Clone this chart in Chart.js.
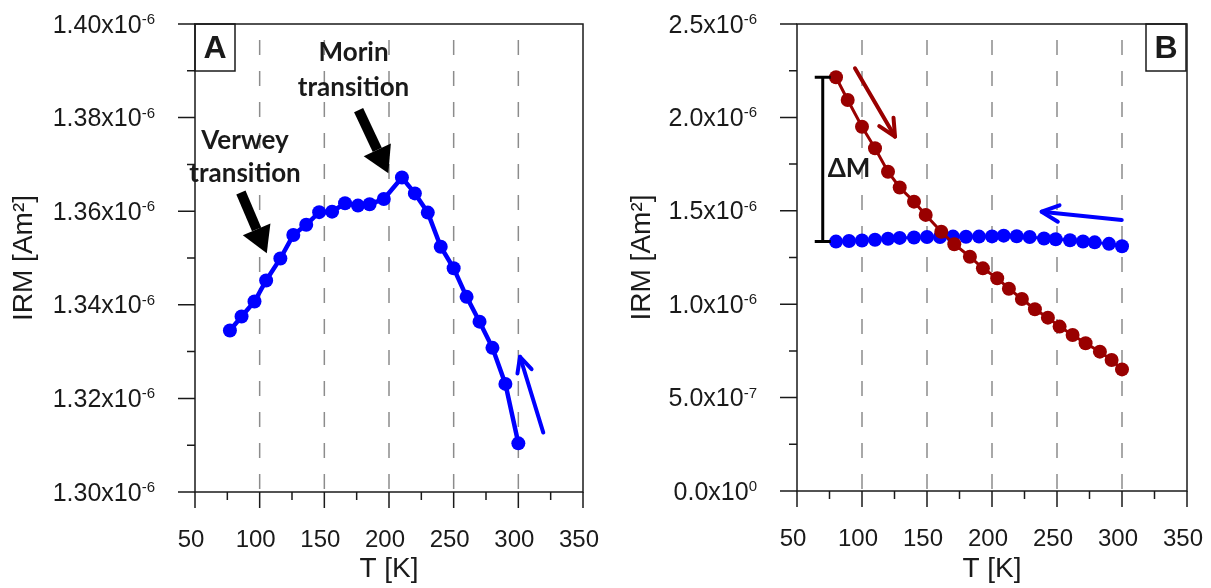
<!DOCTYPE html>
<html>
<head>
<meta charset="utf-8">
<script src="https://cdn.jsdelivr.net/npm/chart.js@4.4.0/dist/chart.umd.min.js"></script>
<style>
body { margin: 0; background: #fff; }
#wrapA { position: absolute; left: 0; top: 0; width: 620px; height: 588px; }
#wrapB { position: absolute; left: 600px; top: 0; width: 611px; height: 588px; }
</style>
</head>
<body>
<div id="wrapA"><canvas id="chartA" width="620" height="588"></canvas></div>
<div id="wrapB"><canvas id="chartB" width="611" height="588"></canvas></div>
<script>
// Panel A - IRM saat pemanasan
const tempA = [77, 86, 96, 105, 116, 126, 136, 146, 156, 166, 176, 185, 196, 210, 220, 230, 240, 250, 260, 270, 280, 290, 300];
const irmA = [1.3345e-6, 1.3375e-6, 1.3407e-6, 1.3452e-6, 1.3499e-6, 1.3549e-6, 1.3571e-6, 1.3598e-6, 1.3599e-6, 1.3617e-6, 1.3612e-6, 1.3615e-6,
              1.3626e-6, 1.3672e-6, 1.3638e-6, 1.3597e-6, 1.3524e-6, 1.3478e-6, 1.3417e-6, 1.3364e-6, 1.3308e-6, 1.3231e-6, 1.3104e-6];

// Panel B - dua kurva
const tempRed = [80, 89, 100, 110, 120, 129, 140, 149, 161, 171, 183, 193, 204, 213, 223, 233, 243, 252, 262, 272, 283, 292, 300];
const irmRed = [2.215e-6, 2.093e-6, 1.950e-6, 1.835e-6, 1.709e-6, 1.625e-6, 1.549e-6, 1.478e-6, 1.388e-6, 1.321e-6, 1.254e-6, 1.192e-6,
                1.139e-6, 1.083e-6, 1.028e-6, 0.973e-6, 0.928e-6, 0.880e-6, 0.835e-6, 0.791e-6, 0.746e-6, 0.701e-6, 0.651e-6];
const tempBlue = [80, 90, 100, 110, 120, 129, 140, 150, 160, 170, 180, 190, 200, 209, 219, 229, 240, 249, 260, 270, 279, 290, 300];
const irmBlue = [1.335e-6, 1.338e-6, 1.341e-6, 1.345e-6, 1.350e-6, 1.355e-6, 1.357e-6, 1.360e-6, 1.360e-6, 1.362e-6, 1.361e-6, 1.362e-6,
                 1.363e-6, 1.367e-6, 1.364e-6, 1.360e-6, 1.352e-6, 1.348e-6, 1.342e-6, 1.336e-6, 1.331e-6, 1.323e-6, 1.310e-6];

// Tick
const xTicks = [50, 100, 150, 200, 250, 300, 350];
const dashX = [100, 150, 200, 250, 300];
const yTicksA = [1.30e-6, 1.32e-6, 1.34e-6, 1.36e-6, 1.38e-6, 1.40e-6];
const yLabelsA = [['1.30x10', '-6'], ['1.32x10', '-6'], ['1.34x10', '-6'], ['1.36x10', '-6'], ['1.38x10', '-6'], ['1.40x10', '-6']];
const yTicksB = [0, 0.5e-6, 1.0e-6, 1.5e-6, 2.0e-6, 2.5e-6];
const yLabelsB = [['0.0x10', '0'], ['5.0x10', '-7'], ['1.0x10', '-6'], ['1.5x10', '-6'], ['2.0x10', '-6'], ['2.5x10', '-6']];

const AXIS_FONT = "'Liberation Sans', Arial, sans-serif";
const NOTE_FONT = "Lato, 'Open Sans', sans-serif";
const INK = '#1a1a1a';

function arrow(ctx, x1, y1, x2, y2, a) {
    const ang = Math.atan2(y2 - y1, x2 - x1);
    ctx.strokeStyle = a.color;
    ctx.fillStyle = a.color;
    ctx.lineWidth = a.width;
    ctx.lineCap = 'butt';
    if (a.filled) {
        // panah hitam tebal dengan kepala segitiga
        const bx = x2 - Math.cos(ang) * a.head, by = y2 - Math.sin(ang) * a.head;
        ctx.beginPath(); ctx.moveTo(x1, y1); ctx.lineTo(bx, by); ctx.stroke();
        const nx = -Math.sin(ang) * a.headW / 2, ny = Math.cos(ang) * a.headW / 2;
        ctx.beginPath();
        ctx.moveTo(x2, y2); ctx.lineTo(bx + nx, by + ny); ctx.lineTo(bx - nx, by - ny);
        ctx.closePath(); ctx.fill();
    } else {
        // panah garis tipis dengan kepala terbuka
        ctx.lineCap = 'round';
        ctx.lineJoin = 'round';
        ctx.beginPath(); ctx.moveTo(x1, y1); ctx.lineTo(x2, y2); ctx.stroke();
        ctx.beginPath();
        ctx.moveTo(x2 - Math.cos(ang - 0.45) * a.head, y2 - Math.sin(ang - 0.45) * a.head);
        ctx.lineTo(x2, y2);
        ctx.lineTo(x2 - Math.cos(ang + 0.45) * a.head, y2 - Math.sin(ang + 0.45) * a.head);
        ctx.stroke();
    }
}

const decoPlugin = {
    id: 'deco',
    beforeDatasetsDraw(chart, args, o) {
        const {ctx, chartArea: a, scales: {x}} = chart;
        ctx.save();
        ctx.strokeStyle = '#8c8c8c';
        ctx.lineWidth = 1.5;
        ctx.setLineDash([15, 16]);
        ctx.lineDashOffset = 15;
        dashX.forEach(v => {
            const px = x.getPixelForValue(v);
            ctx.beginPath(); ctx.moveTo(px, a.top); ctx.lineTo(px, a.bottom); ctx.stroke();
        });
        ctx.restore();
    },
    afterDraw(chart, args, o) {
        const {ctx, chartArea: a, scales: {x, y}} = chart;
        ctx.save();
        ctx.strokeStyle = INK;
        ctx.lineWidth = 1.5;
        ctx.strokeRect(a.left, a.top, a.right - a.left, a.bottom - a.top);

        // tick mayor + minor sumbu x
        ctx.beginPath();
        x.ticks.forEach((t, i) => {
            const px = x.getPixelForValue(t.value);
            ctx.moveTo(px, a.bottom); ctx.lineTo(px, a.bottom + 16);
            if (i < x.ticks.length - 1) {
                const mx = x.getPixelForValue((t.value + x.ticks[i + 1].value) / 2);
                ctx.moveTo(mx, a.bottom); ctx.lineTo(mx, a.bottom + 8);
            }
        });
        // tick sumbu y
        y.ticks.forEach((t, i) => {
            const py = y.getPixelForValue(t.value);
            ctx.moveTo(a.left - 17, py); ctx.lineTo(a.left, py);
            if (i < y.ticks.length - 1) {
                const my = y.getPixelForValue((t.value + y.ticks[i + 1].value) / 2);
                ctx.moveTo(a.left - 8, my); ctx.lineTo(a.left, my);
            }
        });
        ctx.stroke();

        // label sumbu y dengan pangkat
        ctx.fillStyle = INK;
        ctx.textBaseline = 'alphabetic';
        ctx.textAlign = 'left';
        const right = a.left - 40;
        y.ticks.forEach((t, i) => {
            const py = y.getPixelForValue(t.value);
            const [main, exp] = o.yLabels[i];
            ctx.font = '15px ' + AXIS_FONT;
            const ew = ctx.measureText(exp).width;
            ctx.font = '25px ' + AXIS_FONT;
            const mw = ctx.measureText(main).width;
            ctx.fillText(main, right - ew - mw, py + 8.5);
            ctx.font = '15px ' + AXIS_FONT;
            ctx.fillText(exp, right - ew, py);
        });

        // kotak huruf panel
        const bw = 40, bh = 47;
        const bx = o.corner.side === 'left' ? a.left : a.right - bw - 1;
        ctx.lineWidth = 1.5;
        ctx.strokeRect(bx, a.top, bw, bh);
        ctx.font = 'bold 32px ' + AXIS_FONT;
        ctx.textAlign = 'center';
        ctx.textBaseline = 'middle';
        ctx.fillText(o.corner.text, bx + bw / 2, a.top + bh / 2 + 2);

        // teks anotasi
        o.texts.forEach(t => {
            ctx.font = t.font;
            ctx.fillStyle = t.color || INK;
            const px = x.getPixelForValue(t.at[0]), py = y.getPixelForValue(t.at[1]);
            t.lines.forEach((s, k) => ctx.fillText(s, px, py + k * t.lh));
        });

        // panah
        o.arrows.forEach(ar => {
            arrow(ctx, x.getPixelForValue(ar.from[0]), y.getPixelForValue(ar.from[1]),
                  x.getPixelForValue(ar.to[0]), y.getPixelForValue(ar.to[1]), ar);
        });

        // garis Delta M
        if (o.bracket) {
            const px = x.getPixelForValue(o.bracket.x);
            const y1 = y.getPixelForValue(o.bracket.from), y2 = y.getPixelForValue(o.bracket.to);
            ctx.strokeStyle = '#000';
            ctx.lineWidth = 3;
            ctx.lineCap = 'butt';
            ctx.beginPath();
            ctx.moveTo(px, y1); ctx.lineTo(px, y2);
            ctx.moveTo(px - 8, y1); ctx.lineTo(px + 8, y1);
            ctx.moveTo(px - 8, y2); ctx.lineTo(px + 8, y2);
            ctx.stroke();
        }
        ctx.restore();
    }
};

function makeScales(yMin, yMax, yTicks, yWidth, xHeight, titlePad) {
    return {
        x: {
            type: 'linear', min: 50, max: 350,
            afterBuildTicks: s => { s.ticks = xTicks.map(v => ({value: v})); },
            afterFit: s => { s.height = xHeight; s.paddingLeft = 0; s.paddingRight = 0; },
            grid: {display: false, drawTicks: false},
            border: {display: false},
            ticks: {font: {family: AXIS_FONT, size: 24}, color: INK, padding: 34, maxRotation: 0, labelOffset: -4},
            title: {display: true, text: 'T [K]', color: INK, font: {family: AXIS_FONT, size: 28}, padding: {top: 0, bottom: 2}}
        },
        y: {
            type: 'linear', min: yMin, max: yMax,
            afterBuildTicks: s => { s.ticks = yTicks.map(v => ({value: v})); },
            afterFit: s => { s.width = yWidth; s.paddingTop = 0; s.paddingBottom = 0; },
            grid: {display: false, drawTicks: false},
            border: {display: false},
            ticks: {display: false},
            title: {display: true, text: 'IRM [Am²]', color: INK, font: {family: AXIS_FONT, size: 28}, padding: {top: titlePad, bottom: 0}}
        }
    };
}

const noteFont = 'bold 26px ' + NOTE_FONT;

new Chart(document.getElementById('chartA'), {
    type: 'line',
    data: {
        datasets: [{
            data: tempA.map((t, i) => ({x: t, y: irmA[i]})),
            borderColor: '#0000ff',
            backgroundColor: '#0000ff',
            borderWidth: 4.5,
            pointRadius: 7,
            pointBorderWidth: 0,
            tension: 0
        }]
    },
    options: {
        responsive: false,
        animation: false,
        layout: {padding: {top: 24, right: 37, left: 0, bottom: 0}},
        scales: makeScales(1.30e-6, 1.40e-6, yTicksA, 195, 96, 7),
        plugins: {
            legend: {display: false},
            tooltip: {enabled: false},
            deco: {
                yLabels: yLabelsA,
                corner: {text: 'A', side: 'left'},
                texts: [
                    {at: [88.7, 1.3750e-6], lines: ['Verwey', 'transition'], lh: 33, font: noteFont},
                    {at: [172.6, 1.3938e-6], lines: ['Morin', 'transition'], lh: 35, font: noteFont}
                ],
                arrows: [
                    {from: [85.5, 1.3640e-6], to: [105.5, 1.3510e-6], color: '#000', width: 10, head: 26, headW: 30, filled: true},
                    {from: [176.5, 1.3816e-6], to: [199.5, 1.3681e-6], color: '#000', width: 10, head: 26, headW: 30, filled: true},
                    {from: [319.3, 1.3127e-6], to: [301.3, 1.3289e-6], color: '#0000ff', width: 4, head: 17}
                ]
            }
        }
    },
    plugins: [decoPlugin]
});

new Chart(document.getElementById('chartB'), {
    type: 'line',
    data: {
        datasets: [{
            data: tempRed.map((t, i) => ({x: t, y: irmRed[i]})),
            borderColor: '#990000',
            backgroundColor: '#990000',
            borderWidth: 3,
            pointRadius: 7,
            pointBorderWidth: 0,
            tension: 0
        }, {
            data: tempBlue.map((t, i) => ({x: t, y: irmBlue[i]})),
            borderColor: '#0000ff',
            backgroundColor: '#0000ff',
            borderWidth: 3,
            pointRadius: 7,
            pointBorderWidth: 0,
            tension: 0
        }]
    },
    options: {
        responsive: false,
        animation: false,
        layout: {padding: {top: 24, right: 24, left: 0, bottom: 0}},
        scales: makeScales(0, 2.5e-6, yTicksB, 197, 97, 25),
        plugins: {
            legend: {display: false},
            tooltip: {enabled: false},
            deco: {
                yLabels: yLabelsB,
                corner: {text: 'B', side: 'right'},
                texts: [
                    {at: [90, 1.724e-6], lines: ['ΔM'], lh: 0, font: noteFont}
                ],
                arrows: [
                    {from: [94.6, 2.263e-6], to: [125.4, 1.897e-6], color: '#990000', width: 4, head: 19},
                    {from: [299.8, 1.451e-6], to: [238.2, 1.495e-6], color: '#0000ff', width: 4, head: 19}
                ],
                bracket: {x: 69.8, from: irmRed[0], to: irmBlue[0]}
            }
        }
    },
    plugins: [decoPlugin]
});
</script>
</body>
</html>
